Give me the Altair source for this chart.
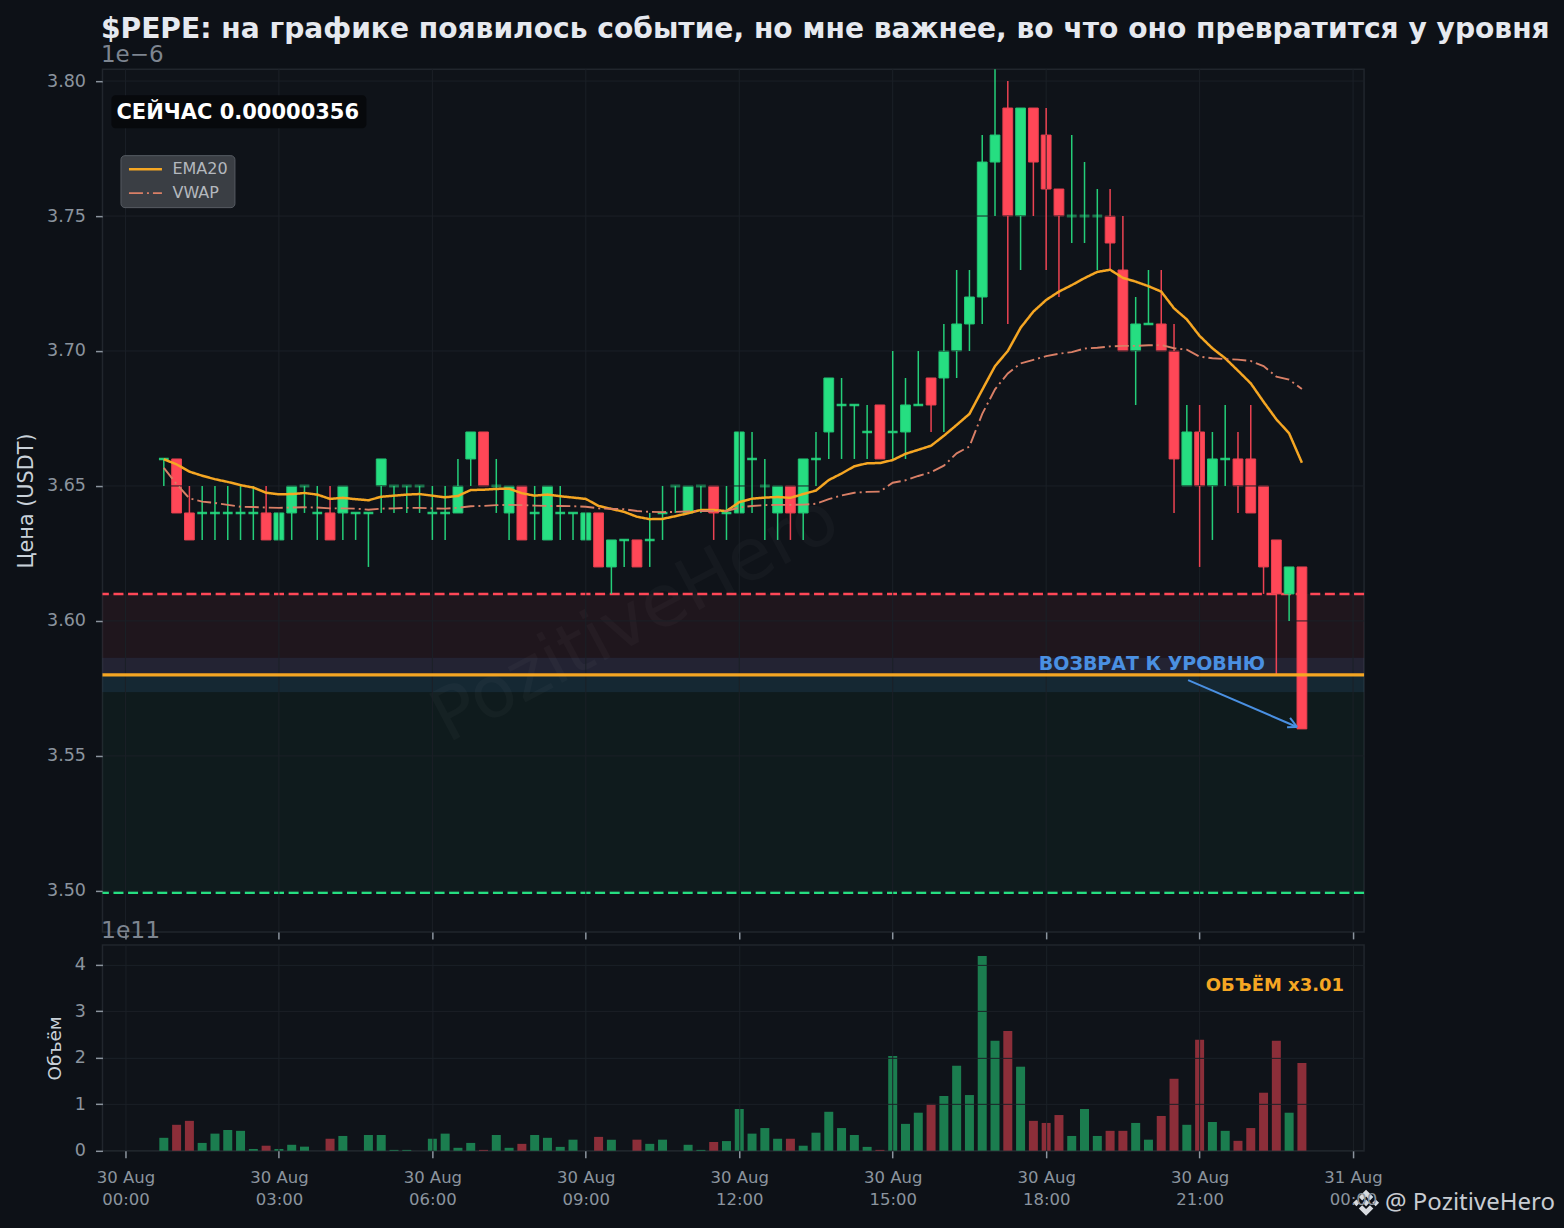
import altair as alt
import pandas as pd

# ---- candle data (price in units of 1e-6 USDT) ----
opens = [3.66,3.66,3.64,3.64,3.64,3.64,3.64,3.64,3.64,3.63,3.64,3.65,3.64,3.64,3.64,3.64,3.64,3.65,3.65,3.65,
         3.65,3.64,3.64,3.64,3.66,3.67,3.65,3.64,3.65,3.64,3.63,3.64,3.64,3.63,3.64,3.62,3.63,3.63,3.63,3.64,
         3.65,3.64,3.65,3.65,3.64,3.64,3.66,3.65,3.64,3.65,3.64,3.66,3.67,3.68,3.68,3.67,3.68,3.67,3.67,3.68,
         3.69,3.69,3.70,3.71,3.72,3.77,3.79,3.75,3.79,3.78,3.76,3.75,3.75,3.75,3.75,3.73,3.70,3.71,3.71,3.70,
         3.65,3.67,3.65,3.66,3.66,3.66,3.65,3.63,3.61,3.62]
highs = [3.66,3.66,3.65,3.65,3.65,3.65,3.65,3.65,3.65,3.64,3.65,3.65,3.65,3.65,3.65,3.64,3.64,3.66,3.65,3.65,
         3.65,3.65,3.65,3.66,3.67,3.67,3.66,3.65,3.65,3.65,3.65,3.65,3.64,3.64,3.64,3.63,3.63,3.63,3.64,3.65,
         3.65,3.65,3.65,3.65,3.65,3.67,3.67,3.66,3.65,3.65,3.66,3.67,3.69,3.69,3.68,3.68,3.68,3.70,3.69,3.70,
         3.69,3.71,3.73,3.73,3.78,3.81,3.80,3.79,3.79,3.79,3.76,3.78,3.77,3.76,3.76,3.75,3.72,3.73,3.73,3.71,
         3.68,3.68,3.67,3.68,3.67,3.68,3.65,3.63,3.62,3.62]
lows = [3.65,3.64,3.63,3.63,3.63,3.63,3.63,3.63,3.63,3.63,3.63,3.64,3.63,3.63,3.63,3.63,3.62,3.64,3.64,3.64,
        3.64,3.63,3.63,3.64,3.65,3.65,3.64,3.63,3.63,3.63,3.63,3.63,3.63,3.63,3.62,3.61,3.62,3.62,3.62,3.63,
        3.64,3.64,3.64,3.63,3.63,3.64,3.64,3.63,3.63,3.63,3.63,3.65,3.66,3.66,3.66,3.66,3.66,3.66,3.66,3.68,
        3.67,3.67,3.69,3.70,3.71,3.75,3.71,3.73,3.75,3.73,3.72,3.74,3.74,3.73,3.73,3.70,3.68,3.71,3.70,3.64,
        3.65,3.62,3.63,3.65,3.64,3.64,3.61,3.58,3.60,3.56]
closes = [3.66,3.64,3.63,3.64,3.64,3.64,3.64,3.64,3.63,3.64,3.65,3.65,3.64,3.63,3.65,3.64,3.64,3.66,3.65,3.65,
          3.65,3.64,3.64,3.65,3.67,3.65,3.65,3.65,3.63,3.64,3.65,3.64,3.64,3.64,3.62,3.63,3.63,3.62,3.63,3.64,
          3.65,3.65,3.65,3.64,3.64,3.67,3.66,3.65,3.65,3.64,3.66,3.66,3.69,3.68,3.68,3.67,3.66,3.67,3.68,3.68,
          3.68,3.70,3.71,3.72,3.77,3.78,3.75,3.79,3.77,3.76,3.75,3.75,3.75,3.75,3.74,3.70,3.71,3.71,3.70,3.66,
          3.67,3.65,3.66,3.66,3.65,3.64,3.62,3.61,3.62,3.56]
volumes = [.28,.56,.645,.17,.37,.45,.43,.04,.11,.04,.13,.09,.0,.26,.32,.0,.34,.34,.02,.02,
           .0,.26,.37,.065,.17,.02,.34,.065,.15,.34,.28,.085,.24,.0,.30,.24,.0,.24,.15,.24,
           .0,.13,.02,.19,.21,.90,.37,.49,.26,.26,.11,.39,.84,.49,.34,.085,.02,2.04,.58,.82,
           1.01,1.18,1.83,1.20,4.19,2.37,2.58,1.81,.645,.60,.77,.32,.90,.32,.43,.43,.60,.24,.75,1.55,
           .56,2.39,.62,.43,.215,.49,1.25,2.37,.82,1.89]
ema20 = [3.6599,3.6580,3.6553,3.6538,3.6525,3.6515,3.6503,3.6494,3.6475,3.6469,3.6470,3.6474,3.6468,3.6452,3.6456,
         3.6451,3.6447,3.6460,3.6464,3.6468,3.6470,3.6464,3.6458,3.6463,3.6485,3.6486,3.6489,3.6490,3.6473,3.6464,
         3.6468,3.6462,3.6457,3.6452,3.6426,3.6415,3.6404,3.6386,3.6377,3.6378,3.6388,3.6399,3.6411,3.6411,3.6407,
         3.6440,3.6453,3.6457,3.6459,3.6456,3.6470,3.6483,3.6522,3.6546,3.6573,3.6584,3.6585,3.6596,3.6619,3.6634,
         3.6649,3.6686,3.6726,3.6767,3.6856,3.6944,3.7000,3.7086,3.7146,3.7189,3.7220,3.7244,3.7270,3.7293,3.7301,
         3.7271,3.7257,3.7240,3.7220,3.7158,3.7117,3.7056,3.7010,3.6973,3.6927,3.6880,3.6812,3.6747,3.6695,3.6586]
vwap = [3.6567,3.6507,3.6454,3.6442,3.6437,3.6430,3.6423,3.6422,3.6420,3.6419,3.6420,3.6421,3.6420,3.6417,3.6417,
        3.6416,3.6412,3.6416,3.6417,3.6419,3.6419,3.6417,3.6416,3.6419,3.6425,3.6426,3.6429,3.6430,3.6429,3.6427,
        3.6426,3.6426,3.6425,3.6423,3.6417,3.6415,3.6414,3.6407,3.6404,3.6403,3.6404,3.6406,3.6407,3.6407,3.6407,
        3.6420,3.6426,3.6429,3.6430,3.6430,3.6431,3.6434,3.6451,3.6465,3.6475,3.6478,3.6479,3.6512,3.6521,3.6537,
        3.6551,3.6575,3.6621,3.6646,3.6767,3.6858,3.6917,3.6954,3.6967,3.6981,3.6990,3.6996,3.7009,3.7012,3.7017,
        3.7019,3.7019,3.7021,3.7022,3.7010,3.7005,3.6979,3.6973,3.6970,3.6968,3.6963,3.6944,3.6905,3.6894,3.6859]

tick_hours = [(30, 0), (30, 3), (30, 6), (30, 9), (30, 12), (30, 15), (30, 18), (30, 21), (31, 0)]
price_ticks = [3.50, 3.55, 3.60, 3.65, 3.70, 3.75, 3.80]
volume_ticks = [0, 1, 2, 3, 4]

TITLE = "$PEPE: на графике появилось событие, но мне важнее, во что оно превратится у уровня"
GREEN, RED, ORANGE, BLUE, CORAL = "#26de81", "#ff4757", "#f5a623", "#4a90e2", "#d97f66"
BG, PANEL, GRID, MUTED = "#0d1117", "#0f1319", "#1b2027", "#8b949e"
FONT = "DejaVu Sans"

df = pd.DataFrame({
    "t": pd.date_range("2025-08-30 00:45", periods=len(opens), freq="15min"),
    "o": opens, "h": highs, "l": lows, "c": closes, "vol": volumes,
    "EMA20": ema20, "VWAP": vwap,
})
one = pd.DataFrame({"a": [0]})

x_dom = [alt.DateTime(year=2025, month=8, date=29, hours=23, minutes=33, seconds=2),
         alt.DateTime(year=2025, month=8, date=31, hours=0, minutes=12, seconds=54)]
x_scale = alt.Scale(domain=x_dom, nice=False, padding=0)
y_scale = alt.Scale(domain=[3.4848, 3.8044], nice=False, zero=False, padding=0)
v_scale = alt.Scale(domain=[0, 4.43], nice=False, zero=False, padding=0)
tick_vals = [alt.DateTime(year=2025, month=8, date=d, hours=h) for d, h in tick_hours]
LABEL_EXPR = "[timeFormat(datum.value, '%d %b'), timeFormat(datum.value, '%H:%M')]"

up = "datum.c >= datum.o"
xa_top = alt.Axis(values=tick_vals, labels=False, title=None, grid=False)
xa_bot = alt.Axis(values=tick_vals, labelExpr=LABEL_EXPR, title=None, zindex=1, labelPadding=12,
                  labelLineHeight=22, labelBaseline="top")
ya_top = alt.Axis(values=price_ticks, format=".2f", title="Цена (USDT)", titleFontSize=20.8,
                  titleColor="#c9d1d9", titleFontWeight="normal", titlePadding=10, labelPadding=10, grid=False,
                  labelFontSize=17.5)
ya_bot = alt.Axis(values=volume_ticks, format="d", title="Объём", titleFontSize=18.5,
                  titleColor="#c9d1d9", titleFontWeight="normal", titlePadding=9.5, labelPadding=10, zindex=1,
                  labelFontSize=17.5)


def text(s, x, y, **kw):
    return alt.Chart(one).mark_text(text=s, font=FONT, **kw).encode(x=alt.value(x), y=alt.value(y))


def hline(v, color, width, dash=None):
    kw = {"strokeDash": dash} if dash else {}
    return alt.Chart(pd.DataFrame({"v": [v]})).mark_rule(color=color, strokeWidth=width, **kw).encode(
        y=alt.Y("v:Q", scale=y_scale, axis=ya_top))


def band(lo, hi, color, op, edge=False):
    kw = {"stroke": color, "strokeOpacity": 0.25, "strokeWidth": 1} if edge else {}
    return alt.Chart(pd.DataFrame({"lo": [lo], "hi": [hi]})).mark_rect(color=color, opacity=op, **kw).encode(
        y=alt.Y("lo:Q", scale=y_scale, axis=ya_top), y2="hi:Q")


# ---- price panel ----
zone_red = band(3.58, 3.61, RED, 0.07)
zone_green = band(3.4993, 3.58, GREEN, 0.04)
level_band = band(3.5737, 3.5863, BLUE, 0.11, edge=True)

watermark = text("PozitiveHero", 533, 550, fontSize=72, color="#ffffff", opacity=0.025, angle=332,
                 align="center", baseline="middle")

wick_up = alt.Chart(df).transform_calculate(top="max(datum.o, datum.c)").mark_rule(
    strokeWidth=1.5, clip=True, opacity=0.92).encode(
    x=alt.X("t:T", scale=x_scale, axis=xa_top),
    y=alt.Y("top:Q", scale=y_scale, axis=ya_top), y2="h:Q",
    color=alt.condition(up, alt.value(GREEN), alt.value(RED)))
wick_down = alt.Chart(df).transform_calculate(bot="min(datum.o, datum.c)").mark_rule(
    strokeWidth=1.5, clip=True, opacity=0.92).encode(
    x=alt.X("t:T", scale=x_scale, axis=xa_top),
    y=alt.Y("l:Q", scale=y_scale, axis=ya_top), y2="bot:Q",
    color=alt.condition(up, alt.value(GREEN), alt.value(RED)))
bodies = alt.Chart(df).mark_bar(size=9.8, clip=True).encode(
    x=alt.X("t:T", scale=x_scale, axis=xa_top),
    y=alt.Y("o:Q", scale=y_scale, axis=ya_top), y2="c:Q",
    color=alt.condition(up, alt.value(GREEN), alt.value(RED)),
    stroke=alt.condition(up, alt.value("#22c574"), alt.value("#e8414f")),
    strokeWidth=alt.condition("datum.o == datum.c", alt.value(2.4), alt.value(1)))

grid_x = alt.Chart(pd.DataFrame({"t": [pd.Timestamp(2025, 8, d, h) for d, h in tick_hours]})).mark_rule(
    color=GRID, strokeWidth=1).encode(x=alt.X("t:T", scale=x_scale, axis=xa_top))
grid_y = alt.Chart(pd.DataFrame({"v": price_ticks})).mark_rule(color=GRID, strokeWidth=1).encode(
    y=alt.Y("v:Q", scale=y_scale, axis=ya_top))

series_legend = alt.Legend(
    orient="none", legendX=18, legendY=86, title=None, fillColor="#3a3e44", strokeColor="#565b62",
    padding=6, cornerRadius=4, symbolType="M-1,0H5", symbolSize=121, labelOffset=30, rowPadding=8,
    labelFontSize=16, labelColor="#b4b8be", labelFont=FONT)
lines = alt.Chart(df).transform_fold(["EMA20", "VWAP"], as_=["series", "val"]).mark_line(clip=True).encode(
    x=alt.X("t:T", scale=x_scale, axis=xa_top),
    y=alt.Y("val:Q", scale=y_scale, axis=ya_top),
    color=alt.Color("series:N", scale=alt.Scale(domain=["EMA20", "VWAP"], range=[ORANGE, CORAL]), legend=series_legend),
    strokeDash=alt.StrokeDash("series:N", scale=alt.Scale(domain=["EMA20", "VWAP"], range=[[1, 0], [14, 4, 2, 4]]), legend=series_legend),
    strokeWidth=alt.StrokeWidth("series:N", scale=alt.Scale(domain=["EMA20", "VWAP"], range=[2.5, 1.9]), legend=series_legend),
)

arrow = pd.DataFrame({
    "t1": pd.to_datetime(["2025-08-30 20:46:30", "2025-08-30 22:46:08", "2025-08-30 22:42:36"]),
    "t2": pd.to_datetime(["2025-08-30 22:54:22"] * 3),
    "y1": [3.5781, 3.5641, 3.5606],
    "y2": [3.5607] * 3,
})
arrow_marks = alt.Chart(arrow).mark_rule(color=BLUE, strokeWidth=2).encode(
    x=alt.X("t1:T", scale=x_scale, axis=xa_top), x2="t2:T",
    y=alt.Y("y1:Q", scale=y_scale, axis=ya_top), y2="y2:Q")
annot = alt.Chart(pd.DataFrame({"t": pd.to_datetime(["2025-08-30 20:04"]), "y": [3.5841], "s": ["ВОЗВРАТ К УРОВНЮ"]})).mark_text(
    font=FONT, fontWeight="bold", fontSize=19, color=BLUE, align="center", baseline="middle").encode(
    x=alt.X("t:T", scale=x_scale, axis=xa_top), y=alt.Y("y:Q", scale=y_scale, axis=ya_top), text="s:N")

now_box = alt.Chart(one).mark_rect(color="#07090c", cornerRadius=4).encode(
    x=alt.value(9), x2=alt.value(264), y=alt.value(26), y2=alt.value(59))
now_text = text("СЕЙЧАС 0.00000356", 14, 43.5, fontSize=21, fontWeight="bold", color="#ffffff", align="left", baseline="middle")
offset_top = text("1e−6", -1.5, -14, fontSize=23, color="#7d8590", align="left", baseline="middle")

price_panel = alt.layer(
    zone_red, zone_green, level_band, watermark,
    hline(3.61, RED, 2.4, [10, 4.6]), hline(3.4993, GREEN, 2.4, [10, 4.6]),
    bodies, grid_x, grid_y, wick_up, wick_down, hline(3.58, ORANGE, 3.2), lines, annot, arrow_marks,
    now_box, now_text, offset_top,
).properties(
    width=1262, height=863,
    title=alt.TitleParams(TITLE, anchor="start", frame="group", align="left", fontSize=28.15, fontWeight="bold",
                          color="#e6e9ef", font=FONT, offset=0, dx=-1.5),
)

# ---- volume panel ----
vol_bars = alt.Chart(df).mark_bar(size=9, opacity=0.52).encode(
    x=alt.X("t:T", scale=x_scale, axis=xa_bot),
    y=alt.Y("vol:Q", scale=v_scale, axis=ya_bot),
    color=alt.condition(up, alt.value(GREEN), alt.value(RED)))
vol_label = text("ОБЪЁМ x3.01", 1242, 41, fontSize=18, fontWeight="bold", color=ORANGE, align="right", baseline="middle")
offset_vol = text("1e11", -1.5, -14, fontSize=23.5, color="#7d8590", align="left", baseline="middle")

LOGO = ("M0,-0.26L0.26,0L0,0.26L-0.26,0Z M-0.74,-0.26L-0.48,0L-0.74,0.26L-1,0Z M0.74,-0.26L1,0L0.74,0.26L0.48,0Z "
        "M0,-1L0.56,-0.44L0.3,-0.18L0,-0.48L-0.3,-0.18L-0.56,-0.44Z M0,1L0.56,0.44L0.3,0.18L0,0.48L-0.3,0.18L-0.56,0.44Z")
logo = alt.Chart(one).mark_point(shape=LOGO, filled=True, size=676, color="#d8dbe0", opacity=1).encode(
    x=alt.value(1264), y=alt.value(258))
handle = alt.Chart(one).mark_text(text="@ PozitiveHero", font="Noto Sans", fontSize=24, color="#c8ccd2",
                                  align="left", baseline="middle").encode(x=alt.value(1283), y=alt.value(258))

volume_panel = alt.layer(vol_bars, vol_label, offset_vol, logo, handle).properties(width=1262, height=206)

chart = alt.vconcat(price_panel, volume_panel, spacing=13, bounds="flush").properties(
    background=BG, padding={"left": 6.5, "top": 6, "right": 0, "bottom": 0},
).configure_view(fill=PANEL, stroke="#21262d", strokeWidth=1.5).configure_axis(
    grid=True, gridColor=GRID, gridWidth=1, domain=False, tickColor=MUTED, tickSize=7, tickWidth=1.5,
    labelColor=MUTED, labelFontSize=16.5, labelFont=FONT, titleFont=FONT,
)

chart.save("out.html", embed_options={"renderer": "svg", "actions": False,
                                      "defaultStyle": "html,body{background:#0d1117 !important;}"})
